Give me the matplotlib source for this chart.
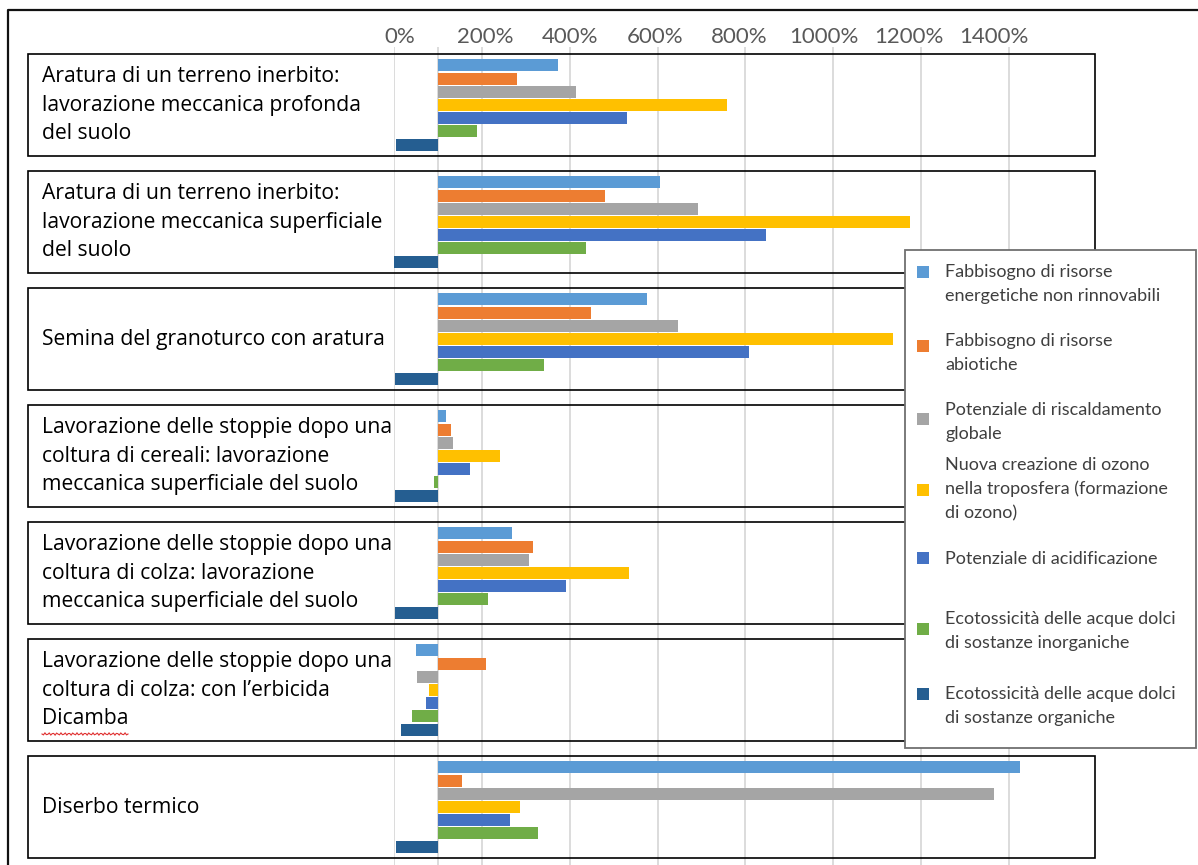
import numpy as np
import matplotlib
matplotlib.use("Agg")
import matplotlib.pyplot as plt
from matplotlib.patches import Rectangle
from matplotlib.lines import Line2D
from matplotlib.transforms import blended_transform_factory

# ---------------- data ----------------
categories = [
    "Aratura di un terreno inerbito:\nlavorazione meccanica profonda\ndel suolo",
    "Aratura di un terreno inerbito:\nlavorazione meccanica superficiale\ndel suolo",
    "Semina del granoturco con aratura",
    "Lavorazione delle stoppie dopo una\ncoltura di cereali: lavorazione\nmeccanica superficiale del suolo",
    "Lavorazione delle stoppie dopo una\ncoltura di colza: lavorazione\nmeccanica superficiale del suolo",
    "Lavorazione delle stoppie dopo una\ncoltura di colza: con l\u2019erbicida\nDicamba",
    "Diserbo termico",
]

series_names = [
    "Fabbisogno di risorse\nenergetiche non rinnovabili",
    "Fabbisogno di risorse\nabiotiche",
    "Potenziale di riscaldamento\nglobale",
    "Nuova creazione di ozono\nnella troposfera (formazione\ndi ozono)",
    "Potenziale di acidificazione",
    "Ecotossicità delle acque dolci\ndi sostanze inorganiche",
    "Ecotossicità delle acque dolci\ndi sostanze organiche",
]

energia_non_rinnovabile = [374, 606, 575, 119, 269, 49, 1425]
risorse_abiotiche = [281, 480, 449, 130, 316, 209, 154]
riscaldamento_globale = [415, 691, 646, 135, 307, 52, 1365]
formazione_ozono = [758, 1175, 1135, 241, 535, 80, 287]
acidificazione = [530, 847, 808, 174, 391, 73, 264]
ecotox_inorganiche = [190, 437, 342, 91, 214, 40, 327]
ecotox_organiche = [5, 1, 2, 3, 3, 17, 4]

series_values = [energia_non_rinnovabile, risorse_abiotiche, riscaldamento_globale,
                 formazione_ozono, acidificazione, ecotox_inorganiche, ecotox_organiche]

tick_values = [0, 200, 400, 600, 800, 1000, 1200, 1400]
tick_labels = ["0%", "200%", "400%", "600%", "800%", "1000%", "1200%", "1400%"]
baseline = 100

colors = ["#5B9BD5", "#ED7D31", "#A5A5A5", "#FFC000", "#4472C4", "#70AD47", "#255E91"]

# ---------------- layout ----------------
W, H = 1198, 865
fig = plt.figure(figsize=(W / 100, H / 100), dpi=100)
fig.patch.set_facecolor("white")

def fx(x):
    return x / W

def fy(y):
    return 1 - y / H

ax_left, ax_right = 394, 394 + 15 * 43.93
ax_top, ax_bottom = 46.5, 865.5
ax = fig.add_axes([fx(ax_left), fy(ax_bottom), (ax_right - ax_left) / W, (ax_bottom - ax_top) / H])
ax.set_xlim(0, 1500)
ax.set_ylim(len(categories) - 0.5, -0.5)
for s in ax.spines.values():
    s.set_visible(False)
ax.set_facecolor("none")
ax.set_xticks([])
ax.set_yticks([])
for t in tick_values:
    ax.axvline(t, color="#D9D9D9", lw=1.3, zorder=0)
ax.axvline(baseline, color="#D9D9D9", lw=1.3, zorder=0)

# tick label row (slightly compressed relative to gridlines, as in the original)
lab_left, lab_right = 400, 994
axl = fig.add_axes([fx(lab_left), fy(37), (lab_right - lab_left) / W, 0.0001])
axl.set_xlim(0, 1400)
for s in axl.spines.values():
    s.set_visible(False)
axl.set_facecolor("none")
axl.xaxis.tick_top()
axl.set_xticks(tick_values)
axl.set_xticklabels(tick_labels, fontfamily="Lato", fontsize=16, color="#595959")
axl.tick_params(axis="x", length=0, pad=0)
axl.set_yticks([])
for lbl in axl.get_xticklabels():
    lbl.set_va("center")

slot = 13.2 / 117
bar_h = 0.102
n = len(series_values)
ypos = np.arange(len(categories))
for j, (vals, c) in enumerate(zip(series_values, colors)):
    vals = np.asarray(vals, dtype=float)
    ax.barh(ypos + (j - (n - 1) / 2) * slot, vals - baseline, left=baseline,
            height=bar_h, color=c, edgecolor="none", zorder=3)

# category boxes and labels
bt = blended_transform_factory(fig.transFigure, ax.transData)
half = 0.44
for i, lab in enumerate(categories):
    r = Rectangle((fx(28), i - half), fx(1095) - fx(28), 2 * half, transform=bt,
                  fill=False, edgecolor="#000000", lw=1.2, zorder=2, clip_on=False)
    ax.add_artist(r)
    ax.text(fx(42), i, lab, transform=bt, ha="left", va="center", fontfamily="Open Sans",
            fontsize=15.2, color="#000000", linespacing=1.45, zorder=4, clip_on=False)

# spell-check squiggle under "Dicamba"
xs = np.linspace(42, 128, 60)
ys = 734 + 1.2 * np.sin((xs - 42) / 2.0 * np.pi)
fig.add_artist(Line2D(fx(xs), fy(ys), transform=fig.transFigure, color="#E03030", lw=0.8, zorder=5))

# outer frame (left and top)
fig.add_artist(Line2D([fx(8), fx(8), fx(1198)], [fy(865), fy(9.5), fy(9.5)],
                      transform=fig.transFigure, color="#111111", lw=1.6, zorder=5))

# legend box
leg = Rectangle((fx(905), fy(748)), fx(1196) - fx(905), fy(250) - fy(748),
                transform=fig.transFigure, facecolor="white", edgecolor="#6F6F6F",
                lw=1.3, zorder=10)
fig.add_artist(leg)
marker_y = [272, 346, 419, 490, 558, 629, 694]
first_line_y = [272, 341, 410, 465, 559, 619, 694]
for name, c, my, ly in zip(series_names, colors, marker_y, first_line_y):
    fig.add_artist(Rectangle((fx(917), fy(my + 6)), fx(12), fy(0) - fy(12),
                             transform=fig.transFigure, facecolor=c, edgecolor="none", zorder=11))
    for k, line in enumerate(name.split("\n")):
        fig.text(fx(945), fy(ly + 24 * k), line, ha="left", va="center",
                 fontfamily="Lato", fontsize=13, color="#3F3F3F", zorder=12)

fig.savefig("out.png", dpi=100)
